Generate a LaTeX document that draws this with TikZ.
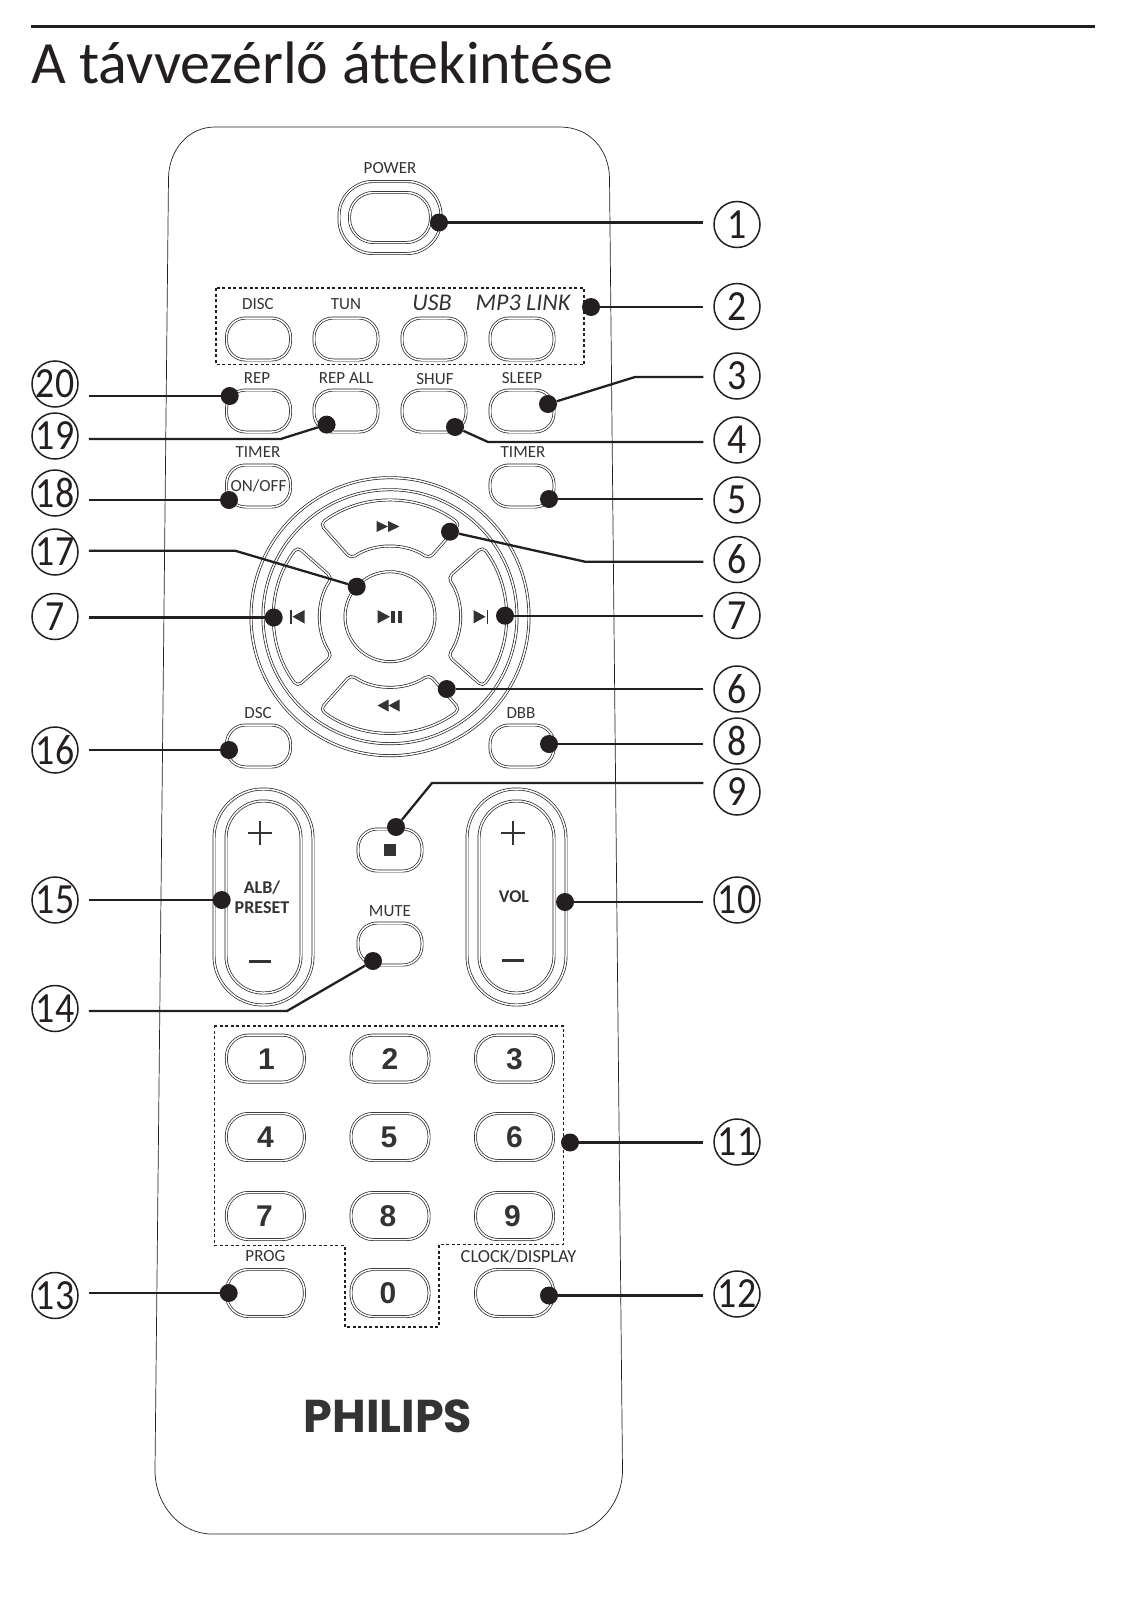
\documentclass[tikz,border=0pt]{standalone}
\usepackage{xcolor}
\usepackage{fontspec}
\setmainfont{Carlito}[Ligatures=NoCommon]
\newfontfamily\keyfont{Liberation Sans}
\newfontfamily\logofont{Poppins}
\definecolor{ink}{HTML}{231F20}
\definecolor{labelgray}{HTML}{333333}
\newcommand{\cnum}[1]{\makebox[0pt]{\scalebox{0.88}[1]{#1}}}
\tikzset{
    body/.style={draw=ink,line width=0.7pt},
    btn/.style={draw=ink,double,line width=0.7pt,double distance=1.5pt,rounded corners=19pt,minimum width=64pt,minimum height=42pt,inner sep=0pt},
    numbtn/.style={btn,minimum width=78pt,minimum height=47pt,rounded corners=22pt},
    bigbtn/.style={draw=ink,double,line width=0.7pt,double distance=1.5pt,inner sep=0pt},
    padkey/.style={draw=ink,double,line width=0.7pt,double distance=1.5pt,rounded corners=5pt},
    keylabel/.style={font=\fontsize{17}{17}\selectfont,text=labelgray,inner sep=0pt},
    fancylabel/.style={font=\fontsize{24}{24}\selectfont\itshape,text=labelgray,inner sep=0pt},
    boldlabel/.style={font=\fontsize{18}{20}\selectfont\bfseries,text=labelgray,inner sep=0pt,align=center},
    numkey/.style={font=\keyfont\fontsize{30}{30}\selectfont\bfseries,text=labelgray,inner sep=0pt},
    callnum/.style={circle,draw=ink,line width=1.5pt,minimum size=46pt,inner sep=0pt,font=\fontsize{43}{43}\selectfont,text=ink},
    calldot/.style={circle,fill=ink,inner sep=0pt,minimum size=18pt},
    leader/.style={draw=ink,line width=2.3pt,shorten >=10pt},
    boxline/.style={draw=ink,line width=1.1pt,dash pattern=on 3pt off 2.5pt},
    icon/.style={fill=labelgray,draw=none},
}
\begin{document}
\begin{tikzpicture}[x=1pt,y=-1pt]
    \useasboundingbox (0,0) rectangle (1128,1600);

    % Draw the heading
    \draw[ink,line width=3.5pt] (31,26.5) -- (1095,26.5);
    \node[anchor=base west,inner sep=0pt,font=\fontsize{60}{60}\selectfont,text=ink] (title) at (31,84) {A távvezérlő áttekintése};

    % Draw the remote body
    \draw[body] (215,127) -- (560,127) .. controls (590,127) and (609,150) .. (609.5,178)
        -- (622.5,1470) .. controls (622.5,1505) and (595,1534) .. (565,1534)
        -- (212,1534) .. controls (180,1534) and (155,1505) .. (155,1470)
        -- (168.5,178) .. controls (169,150) and (188,127) .. (215,127) -- cycle;

    % Power button
    \node[keylabel] (powerlabel) at (390,168.5) {POWER};
    \node[bigbtn,minimum width=102pt,minimum height=72pt,rounded corners=34pt] (powerouter) at (390,217.5) {};
    \node[bigbtn,minimum width=81pt,minimum height=50pt,rounded corners=24pt] (powerinner) at (390,217.5) {};

    % Source buttons
    \draw[boxline] (216,288) rectangle (584,364.5);
    \node[keylabel] (disclabel) at (258,304.5) {DISC};
    \node[keylabel] (tunlabel) at (346,304.5) {TUN};
    \node[fancylabel] (usblabel) at (432,302.5) {USB};
    \node[fancylabel] (mp3label) at (523,302.5) {MP3 LINK};
    \node[btn] (disc) at (258.5,339) {};
    \node[btn] (tun) at (346,339) {};
    \node[btn] (usb) at (434,339) {};
    \node[btn] (mp3) at (522,339) {};

    % Play mode buttons
    \node[keylabel] (replabel) at (257,378) {REP};
    \node[keylabel] (repalllabel) at (346,378) {REP ALL};
    \node[keylabel] (shuflabel) at (435,379) {SHUF};
    \node[keylabel] (sleeplabel) at (522,378) {SLEEP};
    \node[btn] (rep) at (258.5,411) {};
    \node[btn] (repall) at (346,411) {};
    \node[btn] (shuf) at (434,411) {};
    \node[btn] (sleep) at (522,411) {};

    % Timer buttons
    \node[keylabel] (timerleftlabel) at (258,452.5) {TIMER};
    \node[keylabel] (timerrightlabel) at (523,452.5) {TIMER};
    \node[btn,font=\fontsize{17}{17}\selectfont,text=labelgray] (onoff) at (258.5,486) {ON/OFF};
    \node[btn] (timer) at (522,486) {};

    % Navigation ring
    \draw[ink,double,line width=0.7pt,double distance=1.5pt] (390,616.7) circle (139);
    \draw[ink,double,line width=0.7pt,double distance=1.5pt] (390,616.7) circle (127);
    \draw[ink,double,line width=0.7pt,double distance=1.5pt] (390,616.7) circle (45);
    \begin{scope}[shift={(390,616.7)}]
        \draw[padkey] (233:116) arc[start angle=233,end angle=307,radius=116] -- (304:70) arc[start angle=304,end angle=236,radius=70] -- cycle;
        \draw[padkey,rotate=90] (233:116) arc[start angle=233,end angle=307,radius=116] -- (304:70) arc[start angle=304,end angle=236,radius=70] -- cycle;
        \draw[padkey,rotate=180] (233:116) arc[start angle=233,end angle=307,radius=116] -- (304:70) arc[start angle=304,end angle=236,radius=70] -- cycle;
        \draw[padkey,rotate=270] (233:116) arc[start angle=233,end angle=307,radius=116] -- (304:70) arc[start angle=304,end angle=236,radius=70] -- cycle;
    \end{scope}

    % Navigation icons
    \fill[icon] (376.5,521) -- (388,526.5) -- (376.5,532) -- cycle;
    \fill[icon] (388,521) -- (399.5,526.5) -- (388,532) -- cycle;
    \fill[icon] (388.5,699.5) -- (377.5,705.5) -- (388.5,711.5) -- cycle;
    \fill[icon] (399.5,699.5) -- (388.5,705.5) -- (399.5,711.5) -- cycle;
    \fill[icon] (377.5,610) -- (390,616.7) -- (377.5,623.5) -- cycle;
    \fill[icon] (391,610.5) rectangle (395,623);
    \fill[icon] (397.7,610.5) rectangle (402.3,623);
    \fill[icon] (290,609.5) rectangle (291.5,623.5);
    \fill[icon] (304.5,610) -- (292.5,616.7) -- (304.5,623.5) -- cycle;
    \fill[icon] (473.5,610) -- (485.5,616.7) -- (473.5,623.5) -- cycle;
    \fill[icon] (486.7,609.5) rectangle (488.2,623.5);

    % Sound buttons
    \node[keylabel] (dsclabel) at (258,713.5) {DSC};
    \node[keylabel] (dbblabel) at (521,713.5) {DBB};
    \node[btn] (dsc) at (258.5,746) {};
    \node[btn] (dbb) at (522,746) {};

    % Album and volume rockers
    \node[bigbtn,minimum width=99pt,minimum height=216pt,rounded corners=49pt] (albouter) at (263.5,897) {};
    \node[bigbtn,minimum width=75pt,minimum height=192pt,rounded corners=37pt] (albinner) at (263.5,897) {};
    \node[bigbtn,minimum width=99pt,minimum height=216pt,rounded corners=49pt] (volouter) at (516.5,897) {};
    \node[bigbtn,minimum width=75pt,minimum height=192pt,rounded corners=37pt] (volinner) at (516.5,897) {};
    \node[boldlabel] (alblabel) at (262,897) {ALB/\\PRESET};
    \node[boldlabel] (vollabel) at (514,897) {VOL};
    \draw[labelgray,line width=2.2pt] (248,833) -- (272,833) (260,821) -- (260,845);
    \draw[labelgray,line width=3pt] (249,961) -- (271,961);
    \draw[labelgray,line width=2.2pt] (501,833) -- (525,833) (513,821) -- (513,845);
    \draw[labelgray,line width=3pt] (502,960) -- (524,960);

    % Stop and mute
    \node[btn] (stop) at (390,850) {};
    \fill[icon] (384,844) rectangle (396,856);
    \node[keylabel] (mutelabel) at (390,911) {MUTE};
    \node[btn] (mute) at (390,944) {};

    % Number keys
    \draw[boxline] (214.4,1026) -- (563.5,1026) -- (563.5,1244.5) -- (439,1244.5) -- (439,1327) -- (345,1327) -- (345,1245.5) -- (214.4,1245.5) -- cycle;
    \node[numbtn] (key1) at (265.4,1058.6) {};
    \node[numbtn] (key2) at (390,1058.6) {};
    \node[numbtn] (key3) at (514.5,1058.6) {};
    \node[numbtn] (key4) at (265.4,1137) {};
    \node[numbtn] (key5) at (390,1137) {};
    \node[numbtn] (key6) at (514.5,1137) {};
    \node[numbtn] (key7) at (265.4,1216) {};
    \node[numbtn] (key8) at (390,1216) {};
    \node[numbtn] (key9) at (514.5,1216) {};
    \node[numbtn] (key0) at (390,1293) {};
    \node[numkey] (num1) at (266.4,1059) {1};
    \node[numkey] (num2) at (390,1059) {2};
    \node[numkey] (num3) at (514.5,1059) {3};
    \node[numkey] (num4) at (265.4,1137.5) {4};
    \node[numkey] (num5) at (389,1137.5) {5};
    \node[numkey] (num6) at (514.5,1137.5) {6};
    \node[numkey] (num7) at (264.4,1216) {7};
    \node[numkey] (num8) at (388,1216) {8};
    \node[numkey] (num9) at (512.5,1216) {9};
    \node[numkey] (num0) at (388,1293.5) {0};
    \node[numbtn] (prog) at (265.4,1293) {};
    \node[numbtn] (clock) at (514.5,1293) {};
    \node[keylabel] (proglabel) at (265.4,1256) {PROG};
    \node[keylabel,font=\fontsize{18.4}{18.4}\selectfont] (clocklabel) at (518.6,1256) {CLOCK/DISPLAY};

    % Logo
    \node[inner sep=0pt,font=\logofont\fontsize{46}{46}\selectfont\bfseries,text=labelgray] (logo) at (388,1416) {PHILIPS};

    % Numbers on the right
    \node[callnum] (r1) at (737,224.5) {\cnum{1}};
    \node[callnum] (r2) at (737,306.5) {\cnum{2}};
    \node[callnum] (r3) at (737,376) {\cnum{3}};
    \node[callnum] (r4) at (737,440) {\cnum{4}};
    \node[callnum] (r5) at (737,500) {\cnum{5}};
    \node[callnum] (r6a) at (737,559.5) {\cnum{6}};
    \node[callnum] (r7) at (737,615.5) {\cnum{7}};
    \node[callnum] (r6b) at (737,689) {\cnum{6}};
    \node[callnum] (r8) at (737,741) {\cnum{8}};
    \node[callnum] (r9) at (737,792) {\cnum{9}};
    \node[callnum] (r10) at (737,900) {\cnum{10}};
    \node[callnum] (r11) at (737,1142) {\cnum{11}};
    \node[callnum] (r12) at (737,1294) {\cnum{12}};

    % Numbers on the left
    \node[callnum] (l20) at (55,384) {\cnum{20}};
    \node[callnum] (l19) at (55,436) {\cnum{19}};
    \node[callnum] (l18) at (55,493) {\cnum{18}};
    \node[callnum] (l17) at (55,552) {\cnum{17}};
    \node[callnum] (l7) at (55,616.5) {\cnum{7}};
    \node[callnum] (l16) at (55,750) {\cnum{16}};
    \node[callnum] (l15) at (55,900) {\cnum{15}};
    \node[callnum] (l14) at (55,1008.5) {\cnum{14}};
    \node[callnum] (l13) at (55,1295.5) {\cnum{13}};

    % Dots on the buttons
    \node[calldot] (d1) at (439,222.5) {};
    \node[calldot] (d2) at (591,307) {};
    \node[calldot] (d3) at (548,404) {};
    \node[calldot] (d4) at (455,427) {};
    \node[calldot] (d5) at (549,499) {};
    \node[calldot] (d6a) at (450,531.7) {};
    \node[calldot] (d7) at (505,615.7) {};
    \node[calldot] (d6b) at (446.7,689) {};
    \node[calldot] (d8) at (549,744) {};
    \node[calldot] (d9) at (396,827) {};
    \node[calldot] (d10) at (565,902) {};
    \node[calldot] (d11) at (570,1142.5) {};
    \node[calldot] (d12) at (549,1295.5) {};
    \node[calldot] (d20) at (229.7,396) {};
    \node[calldot] (d19) at (326.6,424.6) {};
    \node[calldot] (d18) at (229,500) {};
    \node[calldot] (d17) at (356.7,586.7) {};
    \node[calldot] (d7l) at (273.7,617.5) {};
    \node[calldot] (d16) at (229,750) {};
    \node[calldot] (d15) at (221.7,900) {};
    \node[calldot] (d14) at (373,961) {};
    \node[calldot] (d13) at (228.7,1293) {};

    % Bends in the leaders
    \coordinate (k3) at (635,377);
    \coordinate (k4) at (488,442);
    \coordinate (k6a) at (585,561.7);
    \coordinate (k9) at (432,783);
    \coordinate (k19) at (280.7,439);
    \coordinate (k17) at (235,550.7);
    \coordinate (k14) at (287,1011);

    % Leaders on the right
    \draw[leader] (d1) -- (d1 -| r1.west);
    \draw[leader] (d2) -- (d2 -| r2.west);
    \draw[leader] (d3) -- (k3) -- (k3 -| r3.west);
    \draw[leader] (d4) -- (k4) -- (k4 -| r4.west);
    \draw[leader] (d5) -- (d5 -| r5.west);
    \draw[leader] (d6a) -- (k6a) -- (k6a -| r6a.west);
    \draw[leader] (d7) -- (d7 -| r7.west);
    \draw[leader] (d6b) -- (d6b -| r6b.west);
    \draw[leader] (d8) -- (d8 -| r8.west);
    \draw[leader] (d9) -- (k9) -- (k9 -| r9.west);
    \draw[leader] (d10) -- (d10 -| r10.west);
    \draw[leader] (d11) -- (d11 -| r11.west);
    \draw[leader] (d12) -- (d12 -| r12.west);

    % Leaders on the left
    \draw[leader] (d20) -- (d20 -| l20.east);
    \draw[leader] (d19) -- (k19) -- (k19 -| l19.east);
    \draw[leader] (d18) -- (d18 -| l18.east);
    \draw[leader] (d17) -- (k17) -- (k17 -| l17.east);
    \draw[leader] (d7l) -- (d7l -| l7.east);
    \draw[leader] (d16) -- (d16 -| l16.east);
    \draw[leader] (d15) -- (d15 -| l15.east);
    \draw[leader] (d14) -- (k14) -- (k14 -| l14.east);
    \draw[leader] (d13) -- (d13 -| l13.east);
\end{tikzpicture}
\end{document}
